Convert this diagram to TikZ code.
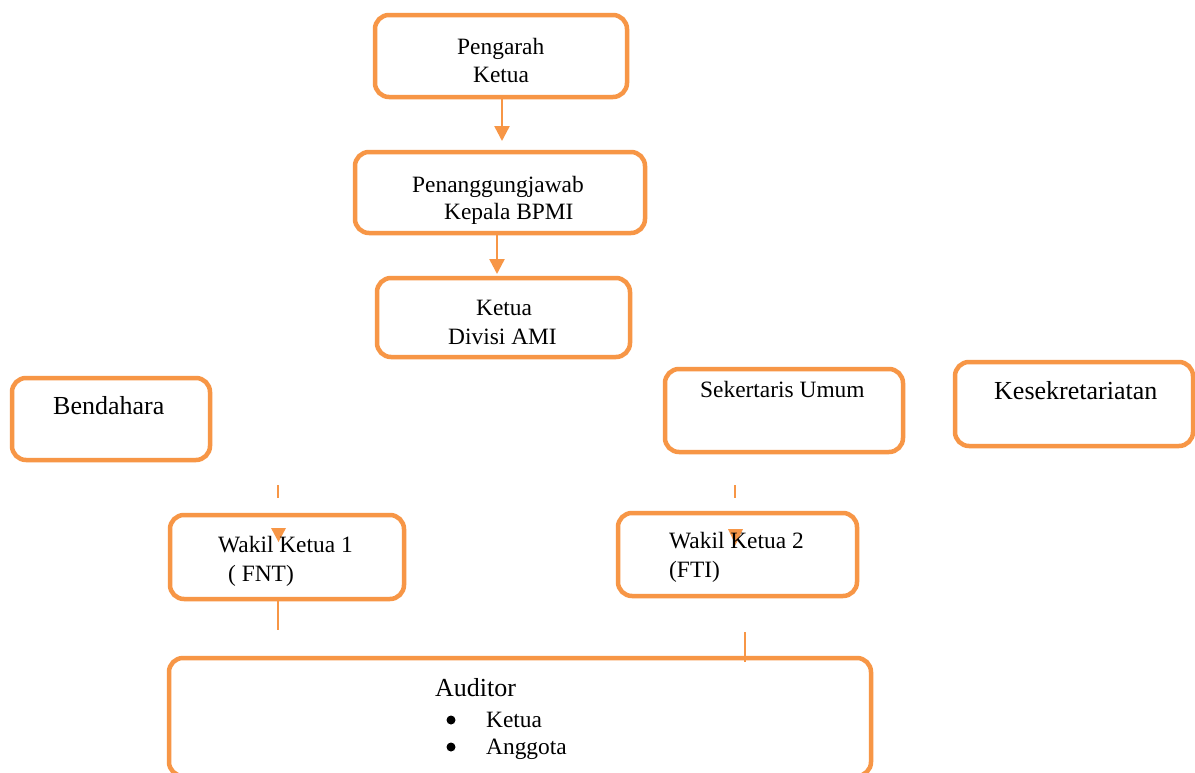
\documentclass[tikz,border=0pt]{standalone}
\usepackage{fontspec}
\setmainfont{Liberation Serif}
\usetikzlibrary{arrows.meta}
\definecolor{accent}{HTML}{F79646}
\tikzset{
  box/.style={draw=accent, line width=4.5pt, rounded corners=14pt, inner sep=0pt, fill=none},
  lbl/.style={inner sep=0pt, anchor=base west, font=\fontsize{23.4}{28}\selectfont},
  biglbl/.style={inner sep=0pt, anchor=base west, font=\fontsize{26}{30}\selectfont},
  link/.style={draw=accent, line width=2.5pt},
  arrowlink/.style={draw=accent, line width=2.5pt, -{Triangle[width=15pt,length=15pt]}},
  tip/.style={fill=accent, draw=none},
  dot/.style={circle, fill=black, draw=none, inner sep=0pt, minimum size=9pt}
}
\begin{document}
\begin{tikzpicture}[x=1pt, y=-1pt]
\clip (0,0) rectangle (1195,772);
\fill[white] (0,0) rectangle (1195,772);

% boxes
\node[box, minimum width=252pt, minimum height=82pt] (pengarah) at (501,56) {};
\node[box, minimum width=290pt, minimum height=81pt] (penanggung) at (500,192.5) {};
\node[box, minimum width=253pt, minimum height=79pt] (divisi) at (503.5,317.5) {};
\node[box, minimum width=198pt, minimum height=82pt] (bendahara) at (111,419) {};
\node[box, minimum width=238pt, minimum height=83pt] (sekum) at (784,410.5) {};
\node[box, minimum width=238pt, minimum height=84pt] (sekret) at (1074,404) {};
\node[box, minimum width=234pt, minimum height=84pt] (wakil1) at (287,557) {};
\node[box, minimum width=239pt, minimum height=83pt] (wakil2) at (737.5,554.5) {};
\node[box, minimum width=702pt, minimum height=118pt] (auditor) at (520,717) {};

% texts
\node[lbl] (tPengarah) at (457,54) {Pengarah};
\node[lbl] (tKetua) at (473,82) {Ketua};
\node[lbl] (tPj) at (412,192) {Penanggungjawab};
\node[lbl] (tBpmi) at (444,219) {Kepala BPMI};
\node[lbl] (tKetuaDiv) at (476,315) {Ketua};
\node[lbl] (tDivisi) at (448,344) {Divisi AMI};
\node[biglbl] (tBendahara) at (53,414) {Bendahara};
\node[lbl] (tSekum) at (700,397) {Sekertaris Umum};
\node[biglbl] (tSekret) at (994,399) {Kesekretariatan};

% connectors between the upper boxes
\coordinate (a1s) at (502,99);
\coordinate (a1e) at (502,141);
\coordinate (a2s) at (497,235);
\coordinate (a2e) at (497,274);
\draw[arrowlink] (a1s) -- (a1e);
\draw[arrowlink] (a2s) -- (a2e);

% broken links to the deputies
\coordinate (w1a) at (278,485);
\coordinate (w1b) at (278,498);
\coordinate (w2a) at (735,485);
\coordinate (w2b) at (735,498);
\draw[link] (w1a) -- (w1b);
\draw[link] (w2a) -- (w2b);
\fill[tip] (271,528) -- (286,528) -- (278.5,542) -- cycle;
\fill[tip] (728,529) -- (743,529) -- (735.5,545) -- cycle;

% links below the deputies
\coordinate (w1c) at (278,601);
\coordinate (w1d) at (278,630);
\coordinate (w2c) at (745,632);
\coordinate (w2d) at (745,662);
\draw[link] (w1c) -- (w1d);
\draw[link] (w2c) -- (w2d);

\node[lbl] (tWakil1) at (218,552) {Wakil Ketua 1};
\node[lbl] (tFnt) at (228,581) {( FNT)};
\node[lbl] (tWakil2) at (669,548) {Wakil Ketua 2};
\node[lbl] (tFti) at (669,577) {(FTI)};

\node[biglbl] (tAuditor) at (435,696) {Auditor};
\node[dot] (b1) at (451,720) {};
\node[lbl] (tAK) at (486,727) {Ketua};
\node[dot] (b2) at (451,747) {};
\node[lbl] (tAA) at (486,754) {Anggota};
\end{tikzpicture}
\end{document}
